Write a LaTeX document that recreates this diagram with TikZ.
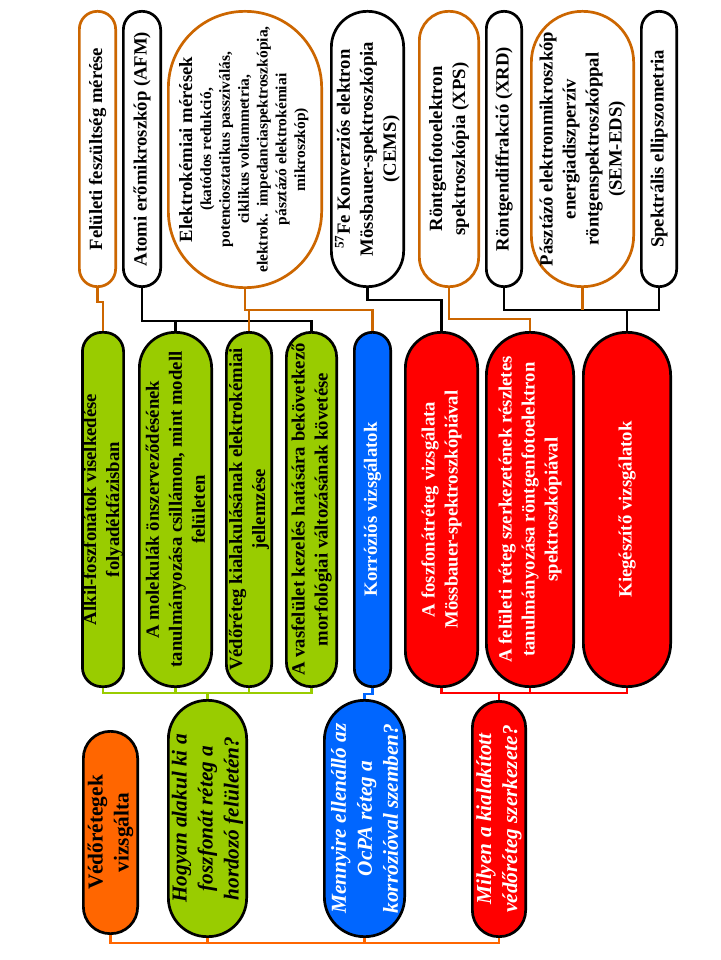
\documentclass[tikz,border=0pt]{standalone}
\usepackage{fontspec}
\setmainfont{Liberation Serif}
\definecolor{ocl}{RGB}{204,102,0}
\definecolor{ofill}{RGB}{255,102,0}
\definecolor{gfill}{RGB}{153,204,0}
\definecolor{bfill}{RGB}{0,102,255}
\definecolor{rfill}{RGB}{255,0,0}
\newcommand{\fmain}{\fontsize{18.7}{23}\selectfont\bfseries}
\newcommand{\fsmall}{\fontsize{15.5}{18.8}\selectfont\bfseries}
\newcommand{\fbig}{\fontsize{21.3}{26}\selectfont\bfseries}
\tikzset{
  stad/.style 2 args={draw, rectangle, rotate=90, line width=2.7pt, inner sep=0.5pt, align=center,
    minimum width={(#1-2.7)*1pt}, minimum height={(#2-2.7)*1pt},
    rounded corners={((#2-2.7)/2-0.3)*1pt}},
  topo/.style={draw=ocl, fill=white, font=\fmain, text=black},
  topb/.style={draw=black, fill=white, font=\fmain, text=black},
  midg/.style={fill=gfill, font=\fmain, text=black},
  midb/.style={fill=bfill, font=\fmain, text=white},
  midr/.style={fill=rfill, font=\fmain, text=white},
  conn/.style={line width=2.6pt},
  oconn/.style={conn, draw=ocl},
  bconn/.style={conn, draw=black},
  gconn/.style={conn, draw=gfill},
  blconn/.style={conn, draw=bfill},
  rconn/.style={conn, draw=rfill},
  foconn/.style={conn, draw=ofill}
}
\begin{document}
\begin{tikzpicture}[x=1pt,y=-1pt]
\useasboundingbox (0,0) rectangle (720,960);
\fill[white] (0,0) rectangle (720,960);

% top row
\node[stad={278}{39}, topo] (fel) at (97.5,149) {Felületi feszültség mérése};
\node[stad={278}{40}, topb] (afm) at (142,149) {Atomi erőmikroszkóp (AFM)};
\node[stad={279}{156}, topo] (ele) at (245,149.5) {Elektrokémiai mérések\\[-4pt]
  {\fsmall\begin{tabular}[t]{@{}c@{}}(katódos redukció,\\potenciosztatikus passziválás,\\ciklikus voltammetria,\\elektrok.\ \ impedanciaspektroszkópia,\\pásztázó elektrokémiai\\mikroszkóp)\end{tabular}}};
\node[stad={278}{75}, topb] (cems) at (367.5,149) {\textsuperscript{57}Fe Konverziós elektron\\Mössbauer-spektroszkópia\\(CEMS)};
\node[stad={278}{62}, topo] (xps) at (449,149) {Röntgenfotoelektron\\spektroszkópia (XPS)};
\node[stad={278}{38}, topb] (xrd) at (504,149) {Röntgendiffrakció (XRD)};
\node[stad={278}{105}, topo] (sem) at (582.5,149) {Pásztázó elektronmikroszkóp\\energiadiszperzív\\röntgenspektroszkóppal\\(SEM-EDS)};
\node[stad={278}{38}, topb] (spe) at (659,149) {Spektrális ellipszometria};

% middle row
\node[stad={357}{42}, midg] (alk) at (103,509.5) {Alkil-foszfonátok viselkedése\\folyadékfázisban};
\node[stad={357}{75}, midg] (mol) at (175.5,509.5) {A molekulák önszerveződésének\\tanulmányozása csillámon, mint modell\\felületen};
\node[stad={357}{48}, midg] (ved) at (249,509.5) {Védőréteg kialakulásának elektrokémiai\\jellemzése};
\node[stad={357}{53}, midg] (vas) at (311.5,509.5) {A vasfelület kezelés hatására bekövetkező\\morfológiai változásának követése};
\node[stad={357}{39}, midb] (kor) at (372.5,509.5) {Korróziós vizsgálatok};
\node[stad={357}{75}, midr] (fos) at (441.5,509.5) {A foszfonátréteg vizsgálata\\Mössbauer-spektroszkópiával};
\node[stad={357}{90}, midr] (fel2) at (530,509.5) {A felületi réteg szerkezetének részletes\\tanulmányozása röntgenfotoelektron\\spektroszkópiával};
\node[stad={357}{90}, midr] (kie) at (627,509.5) {Kiegészítő vizsgálatok};

% bottom row
\node[stad={205}{57}, fill=ofill, font=\fbig, text=black] (veg) at (110.5,832.5) {Védőrétegek\\vizsgálta};
\node[stad={239}{81}, fill=gfill, font=\fbig\itshape, text=black] (hog) at (207.5,818.5) {Hogyan alakul ki a\\foszfonát réteg a\\hordozó felületén?};
\node[stad={239}{83}, fill=bfill, font=\fbig\itshape, text=white] (men) at (364.5,818.5) {Mennyire ellenálló az\\OcPA réteg a\\korrózióval szemben?};
\node[stad={238}{56}, fill=rfill, font=\fbig\itshape, text=white] (mil) at (499,819) {Milyen a kialakított\\védőréteg szerkezete?};

% bus levels
\coordinate (yA) at (0,302);
\coordinate (yB) at (0,321);
\coordinate (yC) at (0,310);
\coordinate (yD) at (0,300);
\coordinate (yE) at (0,319);
\coordinate (yF) at (0,310);
\coordinate (yG) at (0,693);
\coordinate (yGb) at (0,694);
\coordinate (yH) at (0,943);

% top connectors
\draw[bconn] (afm.west) -- (afm.west |- yB) -| (vas.east);
\draw[bconn] (mol.east) -- (mol.east |- yB);
\draw[oconn] (fel.west) -- (fel.west |- yA) -| (alk.east);
\draw[oconn] (ele.west) -- (ele.west |- yC) -| (kor.east);
\draw[oconn] (ved.east) -- (ved.east |- yC);
\draw[bconn] (cems.west) -- (cems.west |- yD) -| (fos.east);
\draw[oconn] (xps.west) -- (xps.west |- yE) -| (fel2.east);
\draw[bconn] (xrd.west) -- (xrd.west |- yF) -| (spe.west);
\draw[bconn] (kie.east) -- (kie.east |- yF);
\draw[oconn] (sem.west) -- (sem.west |- yF);

% lower connectors
\draw[gconn] (alk.west) -- (alk.west |- yG) -| (vas.west);
\draw[gconn] (mol.west) -- (mol.west |- yG);
\draw[gconn] (ved.west) -- (ved.west |- yG);
\draw[gconn] (hog.east) -- (hog.east |- yG);
\draw[blconn] (kor.west) -- (kor.west |- yGb) -| (men.east);
\draw[rconn] (fos.west) -- (fos.west |- yG) -| (kie.west);
\draw[rconn] (fel2.west) -- (fel2.west |- yG);
\draw[rconn] (mil.east) -- (mil.east |- yG);
\draw[foconn] (veg.west) -- (veg.west |- yH) -| (mil.west);
\draw[foconn] (hog.west) -- (hog.west |- yH);
\draw[foconn] (men.west) -- (men.west |- yH);
\end{tikzpicture}
\end{document}
